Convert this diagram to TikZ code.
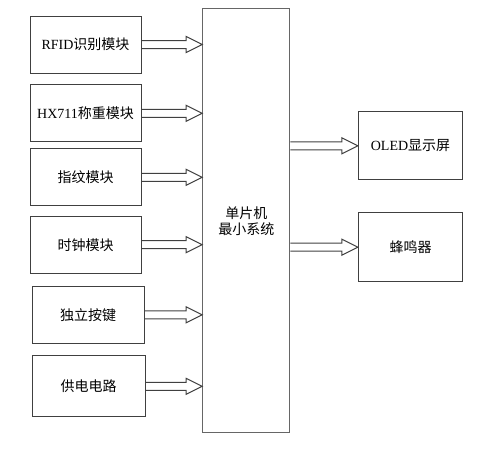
\documentclass[tikz,border=0pt]{standalone}
\usepackage{fontspec}
\setmainfont{Liberation Serif}
\newfontfamily\cjk{Noto Sans CJK SC}
\usetikzlibrary{calc}
\begin{document}
\begin{tikzpicture}[x=1pt,y=-1pt,
  box/.style={draw=black!75,line width=1pt,inner sep=0pt,font=\fontsize{14}{16}\selectfont,align=center},
  harrow/.style={draw=black!75,line width=1pt,line join=miter}]
\useasboundingbox (0,0) rectangle (479,448);
\node[box,minimum width=111pt,minimum height=57pt] (rfid) at (85.5,44.5) {RFID{\cjk 识别模块}};
\node[box,minimum width=111pt,minimum height=57pt] (hx) at (85.5,113.3) {HX711{\cjk 称重模块}};
\node[box,minimum width=111pt,minimum height=57pt] (fp) at (85.5,177.3) {\cjk 指纹模块};
\node[box,minimum width=111pt,minimum height=57pt] (clk) at (85.5,244.7) {\cjk 时钟模块};
\node[box,minimum width=112pt,minimum height=57pt] (key) at (88,314.8) {\cjk 独立按键};
\node[box,minimum width=113pt,minimum height=61pt] (pwr) at (88.7,386.3) {\cjk 供电电路};
\node[box,draw=black!60,minimum width=87.3pt,minimum height=423.7pt] (mcu) at (246.3,220.8) {\cjk 单片机\\\cjk 最小系统};
\node[box,minimum width=104.4pt,minimum height=68.3pt] (oled) at (410.5,145.8) {OLED{\cjk 显示屏}};
\node[box,minimum width=104.4pt,minimum height=69pt] (bz) at (410.5,247.2) {\cjk 蜂鸣器};
\foreach \s in {rfid,hx,fp,clk,key,pwr}{
  \draw[harrow] let \p1=(\s.east), \p2=(mcu.west) in
    (\x1,\y1+4) -- (\x2-16,\y1+4) -- (\x2-16,\y1+8) -- (\x2,\y1) -- (\x2-16,\y1-8) -- (\x2-16,\y1-4) -- (\x1,\y1-4);
}
\foreach \t in {oled,bz}{
  \draw[harrow] let \p1=(mcu.east), \p2=(\t.west) in
    (\x1,\y2+4) -- (\x2-16,\y2+4) -- (\x2-16,\y2+8) -- (\x2,\y2) -- (\x2-16,\y2-8) -- (\x2-16,\y2-4) -- (\x1,\y2-4);
}
\end{tikzpicture}
\end{document}
